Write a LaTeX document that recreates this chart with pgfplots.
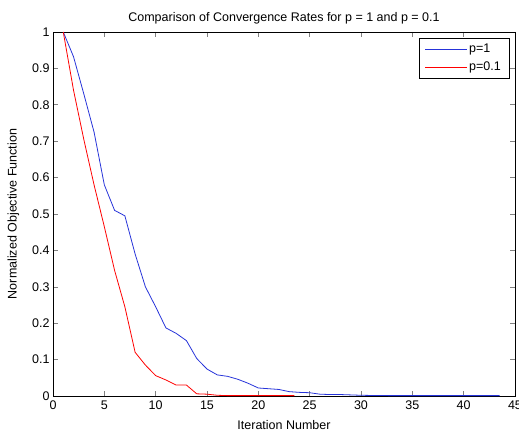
\documentclass[border=0pt]{standalone}
\usepackage{fontspec}
\setmainfont{Liberation Sans}
\usepackage{pgfplots}
\pgfplotsset{compat=1.18}
\definecolor{mblue}{rgb}{0.15,0.2,0.85}
\begin{document}
\begin{tikzpicture}
\path[use as bounding box] (-53bp,-38bp) rectangle (466bp,396bp);
\begin{axis}[
  scale only axis,
  width=462bp, height=364bp,
  xmin=0, xmax=45, ymin=0, ymax=1,
  xtick={0,5,...,45},
  ytick={0,0.1,0.2,0.3,0.4,0.5,0.6,0.7,0.8,0.9,1},
  yticklabel style={/pgf/number format/fixed,/pgf/number format/precision=1},
  /pgf/number format/assume math mode=true,
  tick align=inside,
  major tick length=5bp,
  axis line style={line width=0.6pt},
  tick style={line width=0.6pt},
  ticklabel style={font=\fontsize{12.5bp}{14bp}\selectfont},
  xticklabel style={yshift=-1bp},
  title={Comparison of Convergence Rates for p = 1 and p = 0.1},
  title style={font=\fontsize{12.5bp}{14bp}\selectfont, yshift=-2bp},
  xlabel={Iteration Number},
  ylabel={Normalized Objective Function},
  label style={font=\fontsize{12.5bp}{14bp}\selectfont},
  xlabel style={yshift=-4bp},
  ylabel style={yshift=6bp},
  legend cell align=left,
  legend style={at={(1,1)}, anchor=north east, xshift=-6bp, yshift=-6bp,
    row sep=4bp, inner xsep=6bp, inner ysep=4bp},
  legend image post style={xscale=2.45},
]
\addplot[mblue, line width=0.8pt] coordinates {
(1,1) (2,0.932) (3,0.83) (4,0.725) (5,0.58) (6,0.51) (7,0.495) (8,0.39) (9,0.3)
(10,0.245) (11,0.187) (12,0.172) (13,0.152) (14,0.103) (15,0.074) (16,0.058)
(17,0.054) (18,0.046) (19,0.035) (20,0.022) (21,0.02) (22,0.018) (23,0.012)
(24,0.01) (25,0.009) (26,0.005) (27,0.004) (28,0.004) (29,0.003) (30,0.002)
(31,0.0015) (33,0.001) (36,0.001) (40,0.001) (43.5,0.001)
};
\addlegendentry{\fontsize{12.5bp}{14bp}\selectfont p=1}
\addplot[red, line width=0.8pt] coordinates {
(1,1) (2,0.84) (3,0.705) (4,0.58) (5,0.465) (6,0.345) (7,0.245) (8,0.12) (9,0.085)
(10,0.056) (11,0.044) (12,0.03) (13,0.03) (14,0.006) (15,0.005) (16,0.002)
(17,0.001) (20,0.001) (23.5,0.001)
};
\addlegendentry{\fontsize{12.5bp}{14bp}\selectfont p=0.1}
\end{axis}
\end{tikzpicture}
\end{document}
